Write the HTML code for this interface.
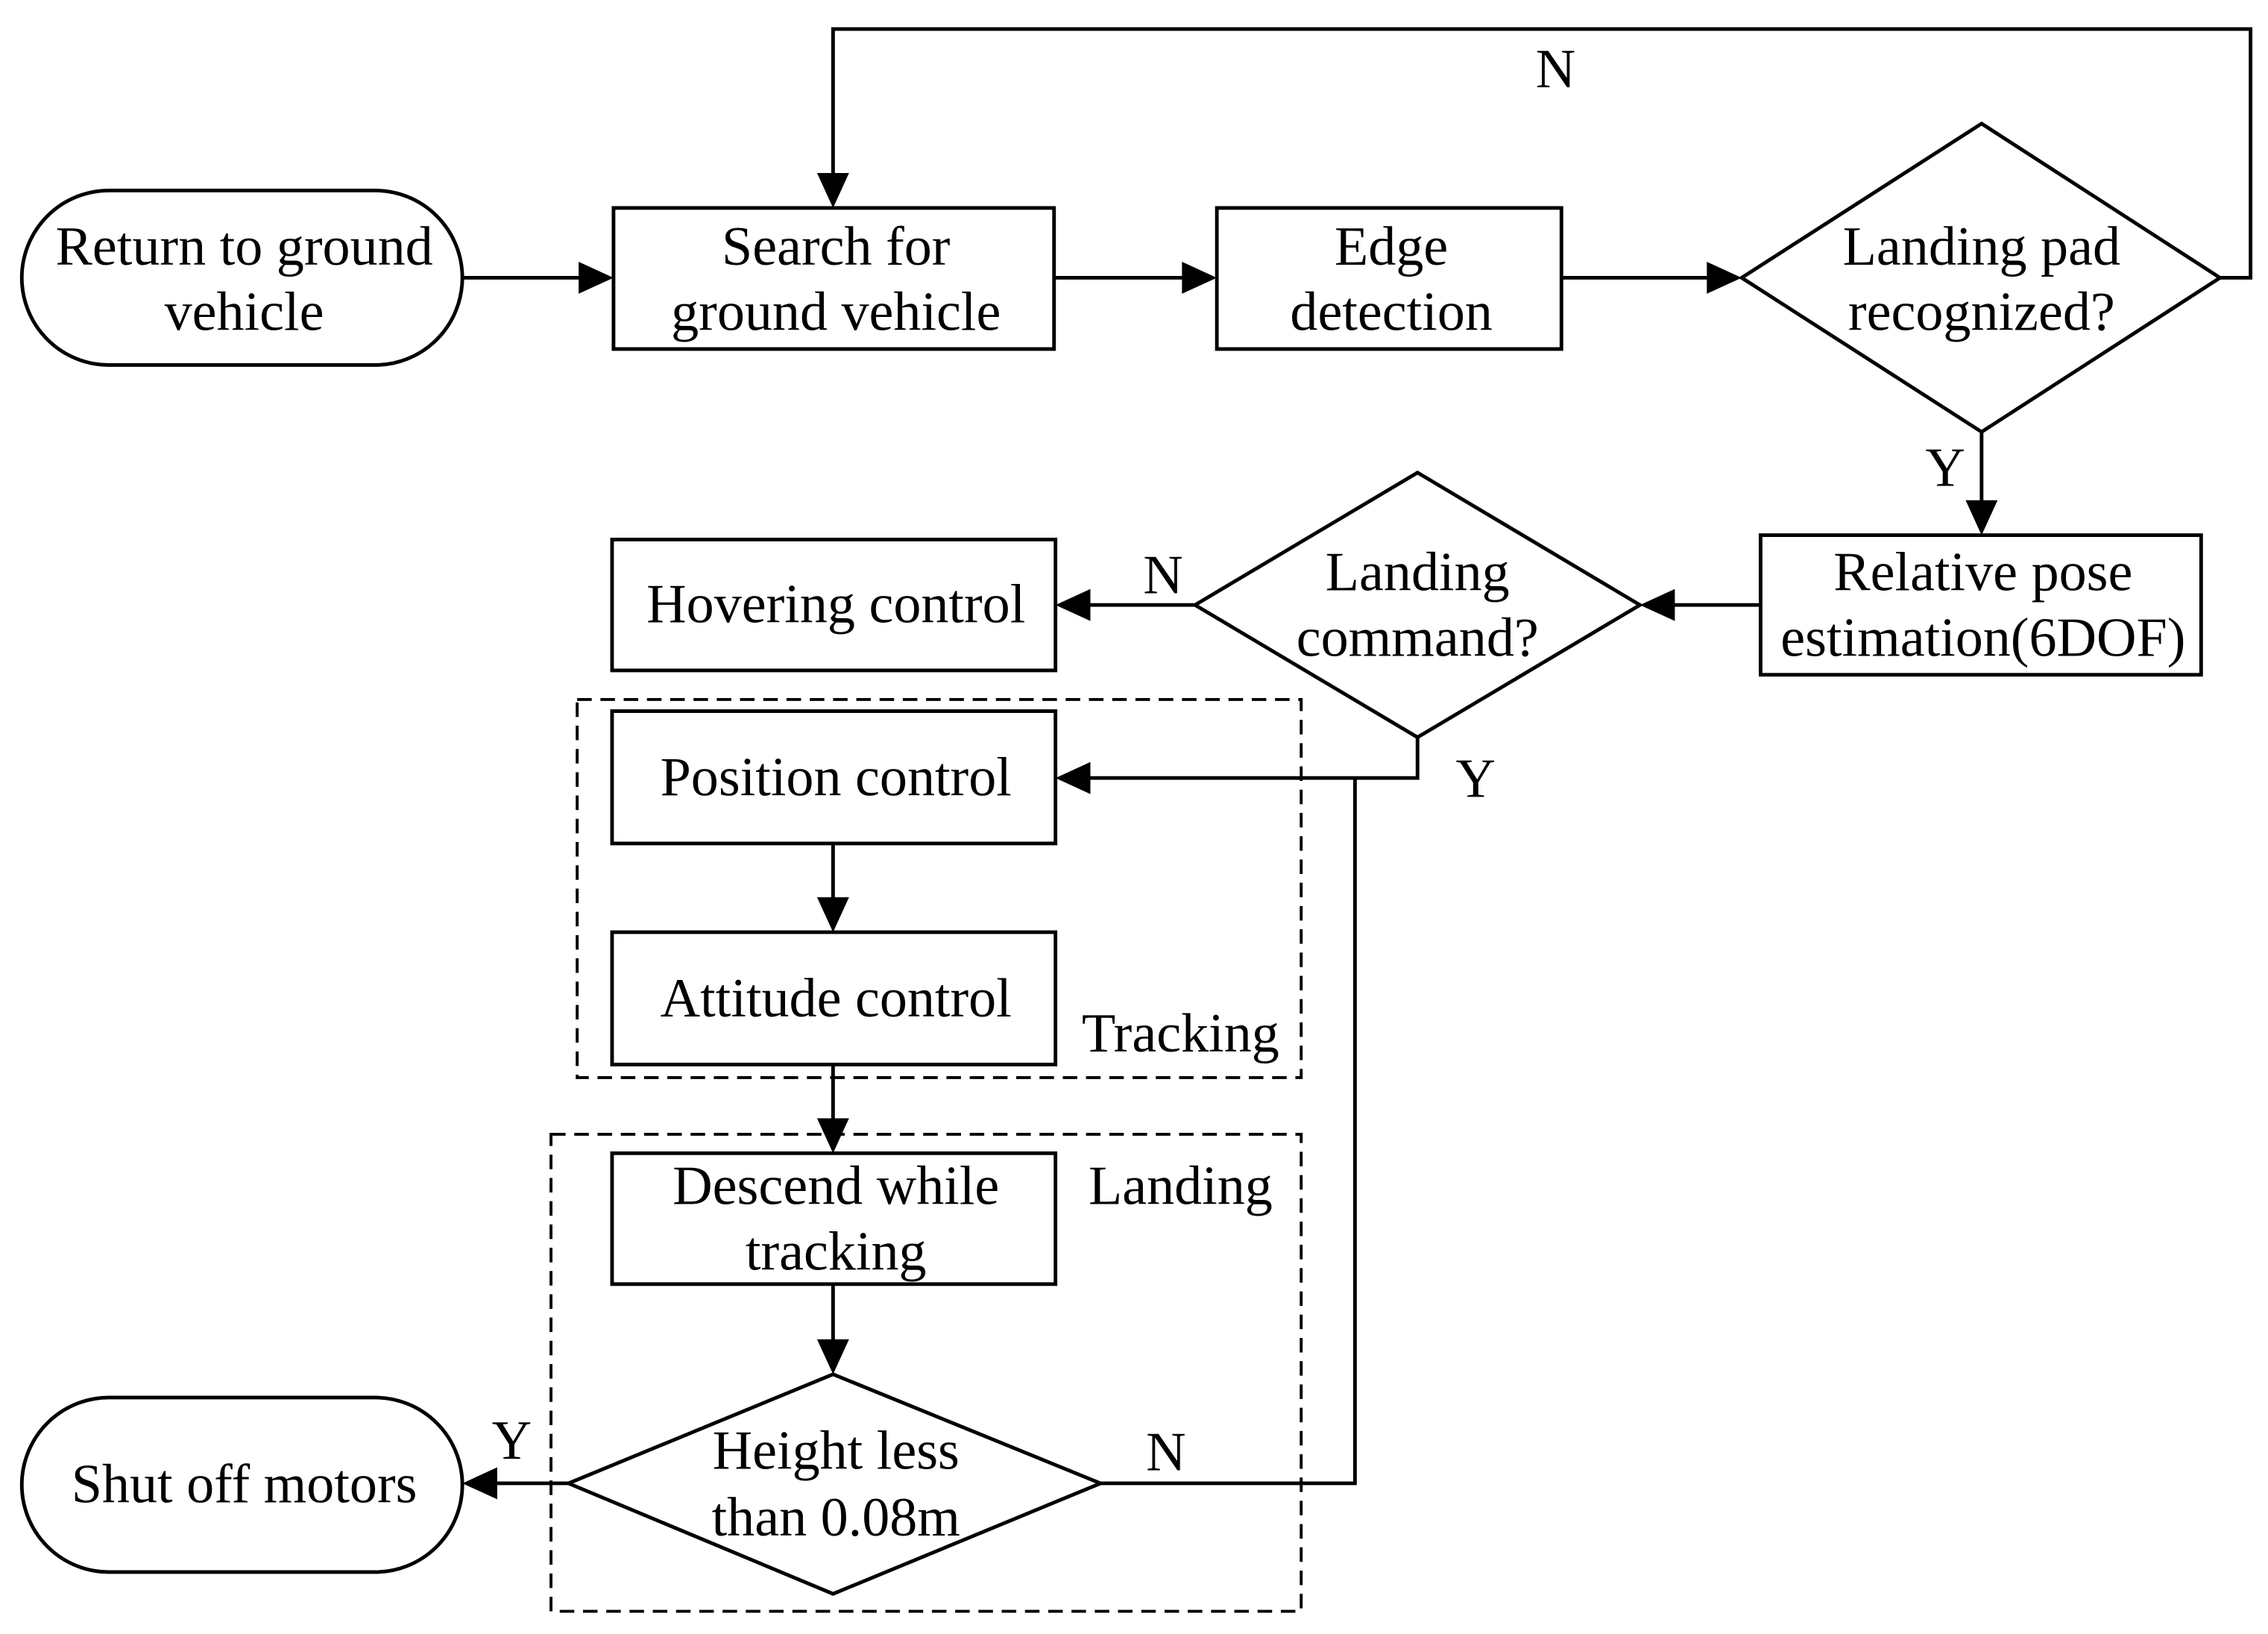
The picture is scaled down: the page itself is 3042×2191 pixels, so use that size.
<!DOCTYPE html>
<html><head><meta charset="utf-8"><style>
html,body{margin:0;padding:0;background:#fff;}
svg{display:block;}
text{font-family:"Liberation Serif",serif;font-size:38px;fill:#000;text-anchor:middle;}
</style></head><body>
<svg width="3042" height="2191" viewBox="0 0 1560 1123.6" preserveAspectRatio="none" xmlns="http://www.w3.org/2000/svg">
<g fill="none" stroke="#000" stroke-width="2.5">
<rect x="15" y="131" width="303" height="120" rx="60" ry="60"/>
<rect x="422" y="143" width="303" height="97"/>
<rect x="837" y="143" width="237" height="97"/>
<polygon points="1198,191 1363,85 1527,191 1363,297"/>
<rect x="1211" y="368" width="303" height="96"/>
<polygon points="822,416 975,325 1128,416 975,507"/>
<rect x="421" y="371" width="305" height="90"/>
<rect x="421" y="489" width="305" height="91"/>
<rect x="421" y="641" width="305" height="91"/>
<rect x="421" y="793" width="305" height="90"/>
<polygon points="391,1020 573,945 757,1020 573,1096"/>
<rect x="15" y="961" width="303" height="120" rx="60" ry="60"/>
<rect x="397" y="481" width="498" height="260" stroke-dasharray="10,6" stroke-width="2"/>
<rect x="379" y="780" width="516" height="328" stroke-dasharray="10,6" stroke-width="2"/>
<polyline points="318,191 400,191"/>
<polyline points="725,191 815,191"/>
<polyline points="1074,191 1176,191"/>
<polyline points="1527,191 1548,191 1548,20 573,20 573,121"/>
<polyline points="1363,297 1363,346"/>
<polyline points="1211,416 1150,416"/>
<polyline points="822,416 748,416"/>
<polyline points="975,507 975,535 748,535"/>
<polyline points="573,580 573,619"/>
<polyline points="573,732 573,771"/>
<polyline points="573,883 573,923"/>
<polyline points="757,1020 932,1020 932,535"/>
<polyline points="391,1020 340,1020"/>
</g>
<g fill="#000">
<polygon points="422,191 398,180 398,202"/>
<polygon points="837,191 813,180 813,202"/>
<polygon points="1198,191 1174,180 1174,202"/>
<polygon points="573,143 562,119 584,119"/>
<polygon points="1363,368 1352,344 1374,344"/>
<polygon points="1128,416 1152,405 1152,427"/>
<polygon points="726,416 750,405 750,427"/>
<polygon points="726,535 750,524 750,546"/>
<polygon points="573,641 562,617 584,617"/>
<polygon points="573,793 562,769 584,769"/>
<polygon points="573,945 562,921 584,921"/>
<polygon points="318,1020 342,1009 342,1031"/>
</g>
<text x="168" y="182">Return to ground</text>
<text x="168" y="227">vehicle</text>
<text x="575" y="182">Search for</text>
<text x="575" y="227">ground vehicle</text>
<text x="957" y="182">Edge</text>
<text x="957" y="227">detection</text>
<text x="1363" y="182">Landing pad</text>
<text x="1363" y="227">recognized?</text>
<text x="1070" y="60">N</text>
<text x="1338" y="334">Y</text>
<text x="1364" y="406">Relative pose</text>
<text x="1364" y="451">estimation(6DOF)</text>
<text x="975" y="406">Landing</text>
<text x="975" y="451">command?</text>
<text x="800" y="408">N</text>
<text x="575" y="428">Hovering control</text>
<text x="1015" y="548">Y</text>
<text x="575" y="547">Position control</text>
<text x="575" y="699">Attitude control</text>
<text x="812" y="723">Tracking</text>
<text x="812" y="828">Landing</text>
<text x="575" y="828">Descend while</text>
<text x="575" y="873">tracking</text>
<text x="575" y="1010">Height less</text>
<text x="575" y="1056">than 0.08m</text>
<text x="802" y="1011">N</text>
<text x="352" y="1003">Y</text>
<text x="168" y="1033">Shut off motors</text>
</svg>
</body></html>
